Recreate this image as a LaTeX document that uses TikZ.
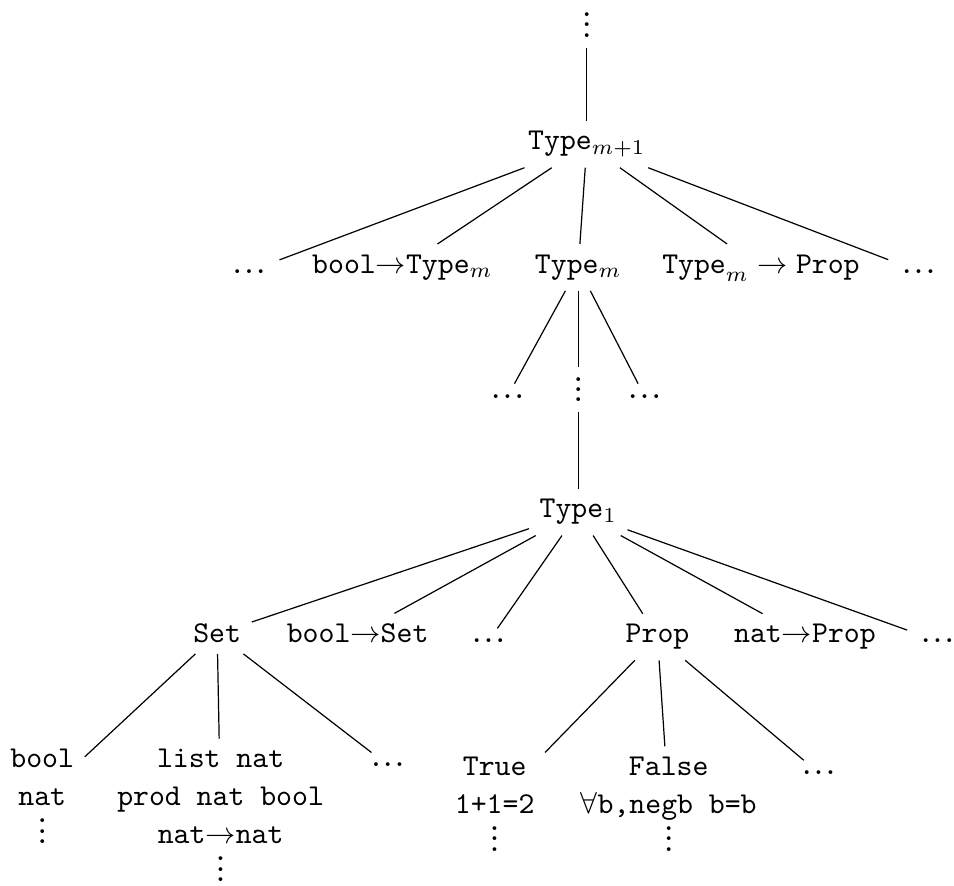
\documentclass[tikz,border=0pt]{standalone}
\usepackage{amsmath}
\usepackage{amssymb}
\usepackage{tikz}

% dots in the typewriter font, set a little closer than the cells
\newcommand{\hdts}{{\ttfamily.\kern-1.35pt.\kern-1.35pt.}}
\newcommand{\vdts}{\vbox{\baselineskip=3.4pt\lineskiplimit=0pt\hbox{\ttfamily.}\hbox{\ttfamily.}\hbox{\ttfamily.}}}

\begin{document}
\begin{tikzpicture}[every node/.style={anchor=base, font=\ttfamily}, stack/.style={anchor=north, align=center, font={\ttfamily\baselineskip=12.5pt}}]
		\useasboundingbox (0, 0) rectangle (11.07, -10.27);

		\node (top) at (6.81, -0.43) {\vdts};
		\node (tm1) at (6.81, -1.74) {Type$_{m+1}$};

		\node (dl2) at (2.89, -3.17) {\hdts};
		\node (btm) at (4.67, -3.17) {bool$\rightarrow$Type$_m$};
		\node (tm) at (6.71, -3.17) {Type$_m$};
		\node (tmp) at (8.83, -3.17) {$\mathtt{Type}_m \rightarrow \mathtt{Prop}$};
		\node (dr2) at (10.66, -3.17) {\hdts};

		\node (dl3) at (5.89, -4.62) {\hdts};
		\node (mid) at (6.71, -4.66) {\vdts};
		\node (dr3) at (7.48, -4.62) {\hdts};

		\node (t1) at (6.71, -6.01) {Type$_1$};

		\node (set) at (2.52, -7.46) {Set};
		\node (bset) at (4.15, -7.46) {bool$\rightarrow$Set};
		\node (dl5) at (5.67, -7.46) {\hdts};
		\node (prop) at (7.63, -7.46) {Prop};
		\node (nprop) at (9.34, -7.46) {nat$\rightarrow$Prop};
		\node (dr5) at (10.88, -7.46) {\hdts};

		\node[stack] (sb) at (0.49, -8.57) {bool\\nat\\\vdts};
		\node[stack] (sl) at (2.56, -8.57) {list nat\\prod nat bool\\nat$\rightarrow$nat\\\vdts};
		\node (sd) at (4.50, -8.90) {\hdts};
		\node[stack] (pt) at (5.74, -8.66) {True\\1+1=2\\\vdts};
		\node[stack] (pf) at (7.76, -8.66) {False\\$\forall$b,negb b=b\\\vdts};
		\node (pd) at (9.50, -8.99) {\hdts};

		\path (top) edge (tm1)
		(tm1) edge (dl2) (tm1) edge (btm) (tm1) edge (tm) (tm1) edge (tmp) (tm1) edge (dr2)
		(tm) edge (dl3) (tm) edge (mid) (tm) edge (dr3)
		(mid) edge (t1)
		(t1) edge (set) (t1) edge (bset) (t1) edge (dl5) (t1) edge (prop) (t1) edge (nprop) (t1) edge (dr5)
		(set) edge (sb) (set) edge (sl) (set) edge (sd)
		(prop) edge (pt) (prop) edge (pf) (prop) edge (pd);
	\end{tikzpicture}
\end{document}
